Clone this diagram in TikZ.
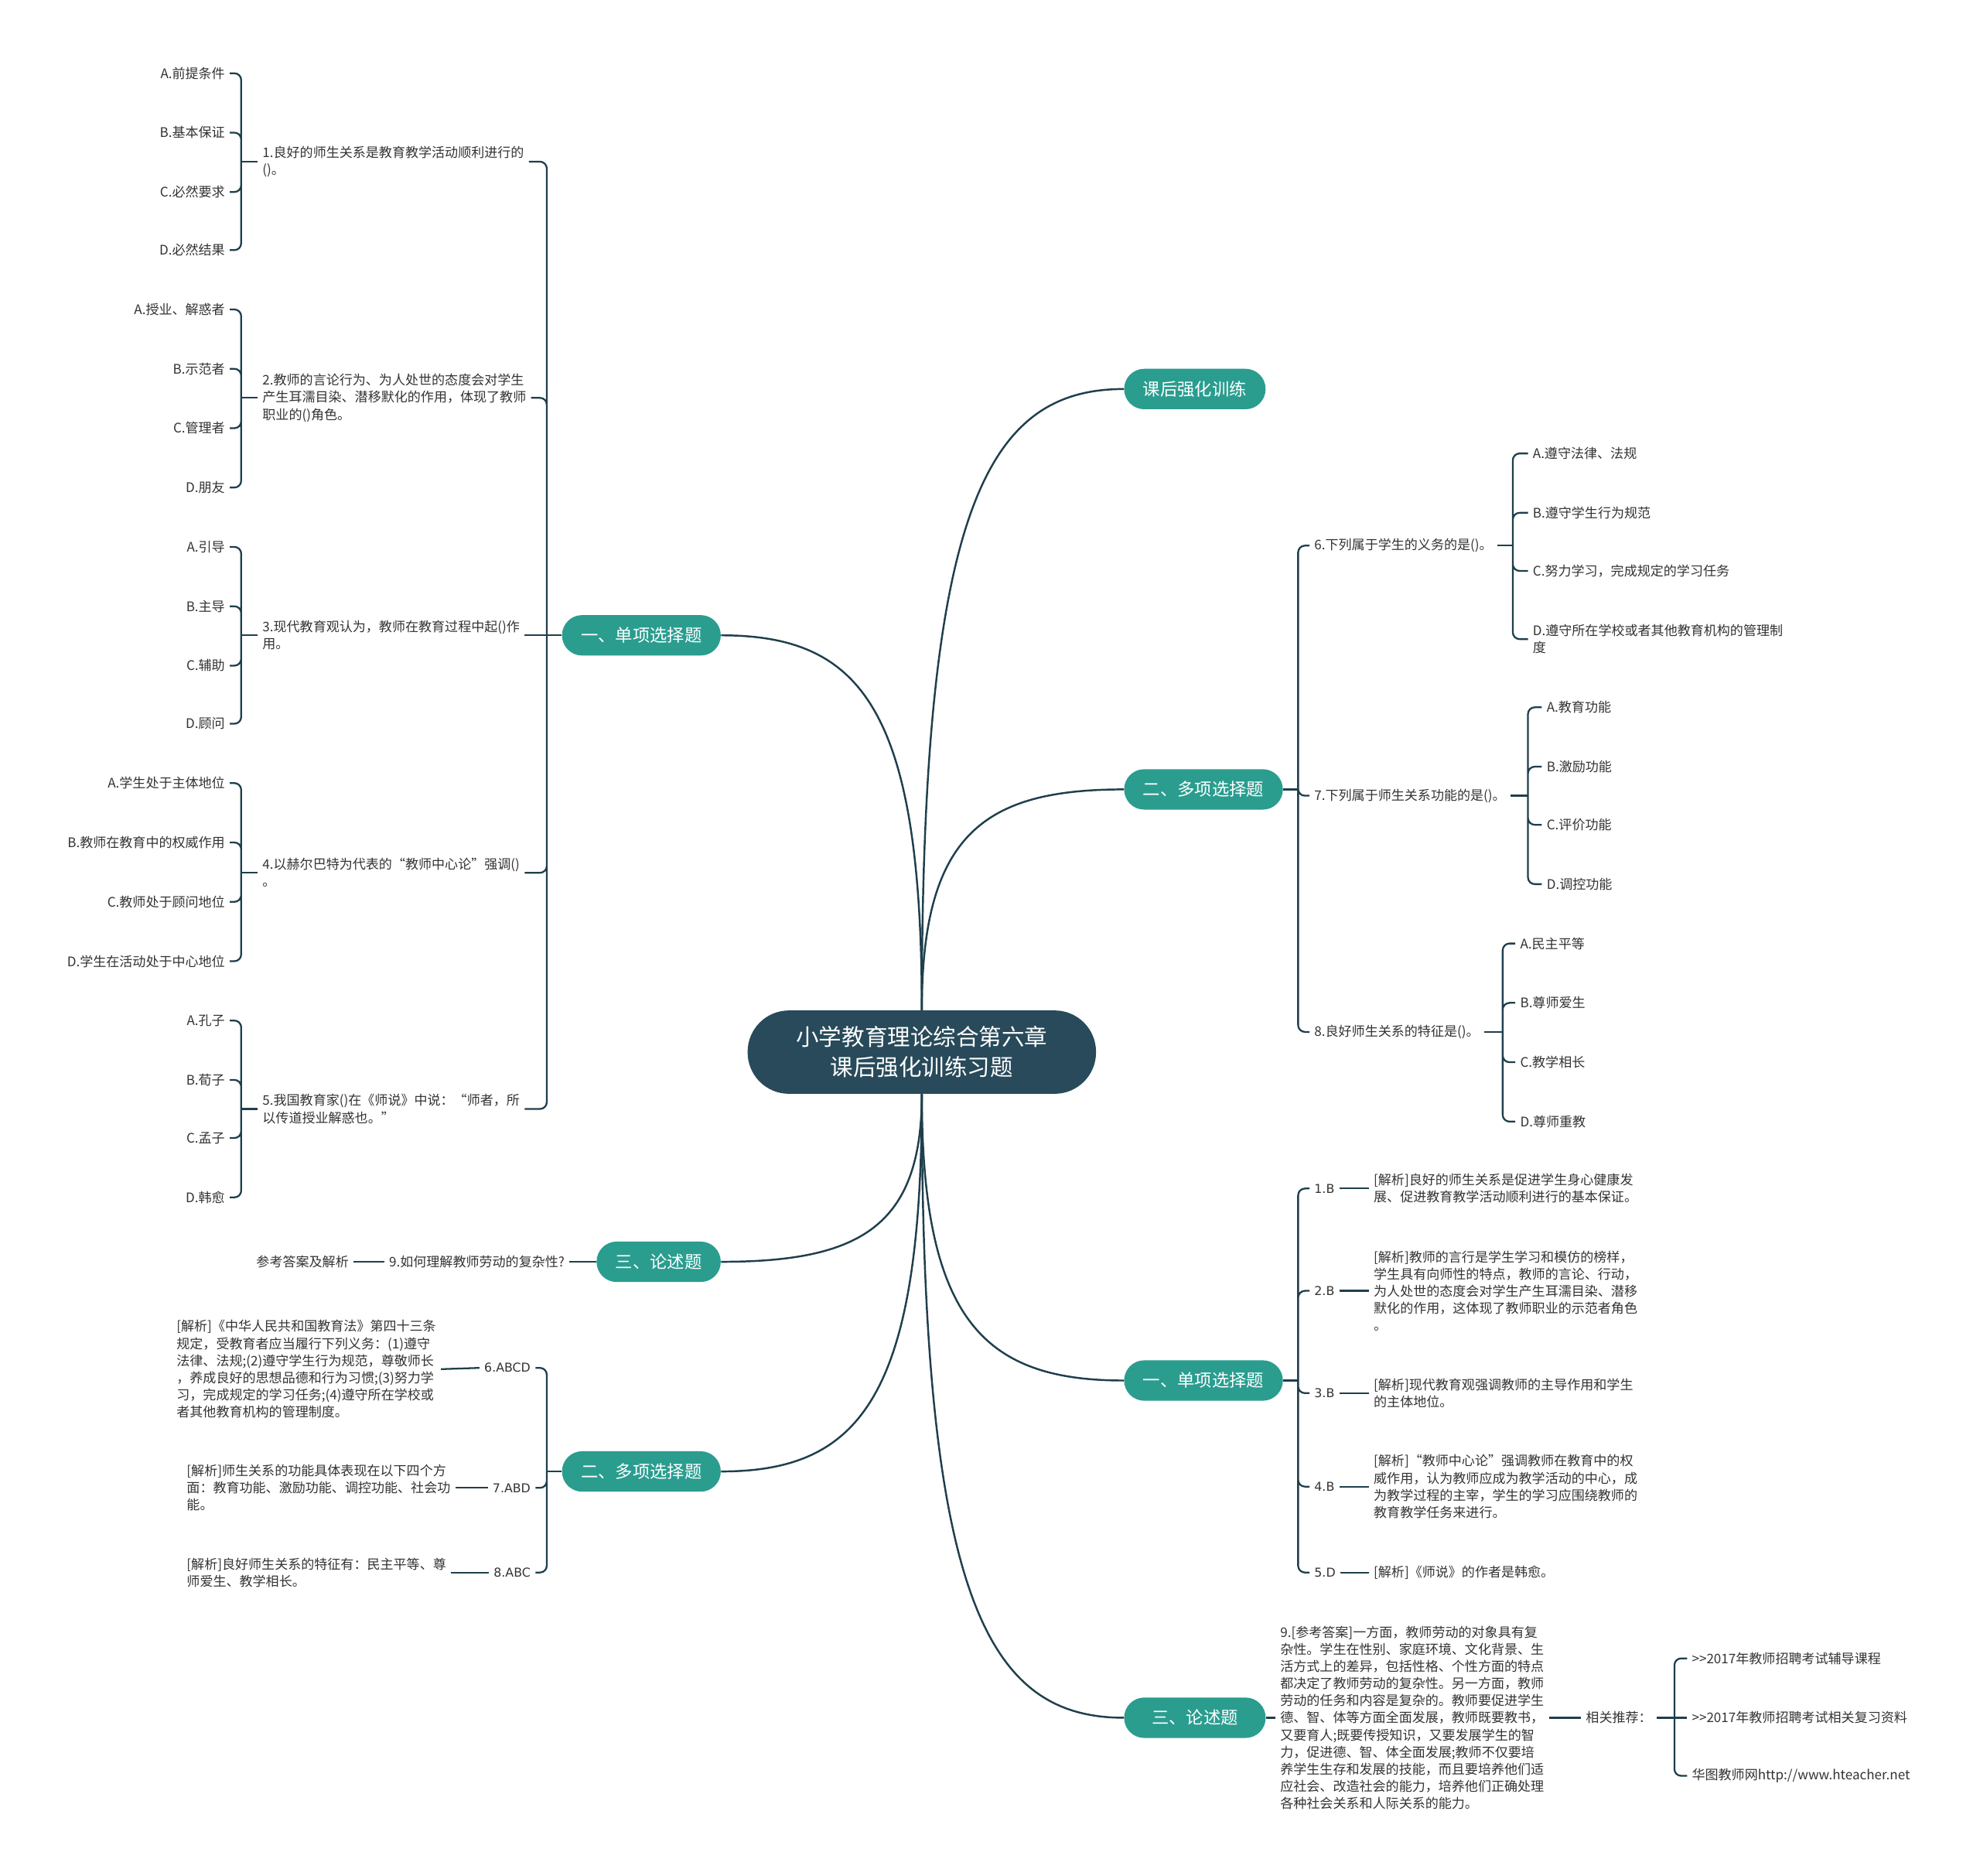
\documentclass[tikz,border=0pt]{standalone}
\usepackage{fontspec}
\setmainfont{Noto Sans CJK SC}
\newfontfamily\ansfont{DejaVu Sans}
\usepackage{tikz}

\definecolor{rootc}{HTML}{284A5A}
\definecolor{branchc}{HTML}{2A9D8F}
\definecolor{linec}{HTML}{1F3F4C}
\definecolor{textc}{HTML}{333333}

\begin{document}
\begin{tikzpicture}[x=0.032653cm, y=-0.032653cm,
    rootnode/.style={fill=rootc, text=white, rounded corners=1.07cm, minimum width=9.01cm, minimum height=2.155cm, align=center, font=\fontsize{16.8}{22.3}\selectfont},
    branch/.style={fill=branchc, text=white, rounded corners=0.52cm, minimum height=1.045cm, inner xsep=0.49cm, font=\fontsize{12.7}{15}\selectfont},
    txt/.style={text=textc, align=left, inner sep=0.12cm, font=\fontsize{9.7}{12.6}\selectfont},
    ans/.style={txt, font=\ansfont\fontsize{9}{12.6}\selectfont},
    trunk/.style={draw=linec, line width=1.4pt},
    link/.style={draw=linec, line width=1.3pt},
    brace/.style={link, rounded corners=5pt}]
    \fill[white] (0,0) rectangle (1568,1485);
    \useasboundingbox (0,0) rectangle (1568,1485);

    % centre and main branches
    \node[rootnode] (root) at (730,833) {小学教育理论综合第六章\\课后强化训练习题};
    \node[branch, anchor=west] (drill) at (890,308) {课后强化训练};
    \node[branch, anchor=west] (multiR) at (890,625) {二、多项选择题};
    \node[branch, anchor=west] (singleR) at (890,1093) {一、单项选择题};
    \node[branch, anchor=west, minimum width=3.66cm] (essayR) at (890,1360) {三、论述题};
    \node[branch, anchor=east] (singleL) at (571,503) {一、单项选择题};
    \node[branch, anchor=east] (essayL) at (571,999) {三、论述题};
    \node[branch, anchor=east] (multiL) at (571,1165) {二、多项选择题};

    \draw[trunk] (root.north) .. controls +(0,-394) and +(-110,0) .. (drill.west);
    \draw[trunk] (root.north) .. controls +(0,-140) and +(-110,0) .. (multiR.west);
    \draw[trunk] (root.south) .. controls +(0,180) and +(-110,0) .. (singleR.west);
    \draw[trunk] (root.south) .. controls +(0,395) and +(-110,0) .. (essayR.west);
    \draw[trunk] (root.north) .. controls +(0,-240) and +(110,0) .. (singleL.east);
    \draw[trunk] (root.south) .. controls +(0,105) and +(110,0) .. (essayL.east);
    \draw[trunk] (root.south) .. controls +(0,240) and +(110,0) .. (multiL.east);

    % left: single choice questions
    \node[txt, anchor=west] (q1) at (204,128) {1.良好的师生关系是教育教学活动顺利进行的\\()。};
    \node[txt, anchor=west] (q2) at (204,315) {2.教师的言论行为、为人处世的态度会对学生\\产生耳濡目染、潜移默化的作用，体现了教师\\职业的()角色。};
    \node[txt, anchor=west] (q3) at (204,503) {3.现代教育观认为，教师在教育过程中起()作\\用。};
    \node[txt, anchor=west] (q4) at (204,691) {4.以赫尔巴特为代表的“教师中心论”强调()\\。};
    \node[txt, anchor=west] (q5) at (204,878) {5.我国教育家()在《师说》中说：“师者，所\\以传道授业解惑也。”};

    \coordinate (fSL) at (433,503);
    \draw[link] (singleL.west) -- (fSL);
    \draw[brace] (fSL) |- (q1.east) (fSL) |- (q2.east) (fSL) |- (q4.east) (fSL) |- (q5.east);
    \draw[link] (fSL) -- (q3.east);

    \node[txt, anchor=east] (q1a) at (182,58) {A.前提条件};
    \node[txt, anchor=east] (q1b) at (182,105) {B.基本保证};
    \node[txt, anchor=east] (q1c) at (182,152) {C.必然要求};
    \node[txt, anchor=east] (q1d) at (182,198) {D.必然结果};
    \node[txt, anchor=east] (q2a) at (182,245) {A.授业、解惑者};
    \node[txt, anchor=east] (q2b) at (182,292) {B.示范者};
    \node[txt, anchor=east] (q2c) at (182,339) {C.管理者};
    \node[txt, anchor=east] (q2d) at (182,386) {D.朋友};
    \node[txt, anchor=east] (q3a) at (182,433) {A.引导};
    \node[txt, anchor=east] (q3b) at (182,480) {B.主导};
    \node[txt, anchor=east] (q3c) at (182,527) {C.辅助};
    \node[txt, anchor=east] (q3d) at (182,573) {D.顾问};
    \node[txt, anchor=east] (q4a) at (182,620) {A.学生处于主体地位};
    \node[txt, anchor=east] (q4b) at (182,667) {B.教师在教育中的权威作用};
    \node[txt, anchor=east] (q4c) at (182,714) {C.教师处于顾问地位};
    \node[txt, anchor=east] (q4d) at (182,761) {D.学生在活动处于中心地位};
    \node[txt, anchor=east] (q5a) at (182,808) {A.孔子};
    \node[txt, anchor=east] (q5b) at (182,855) {B.荀子};
    \node[txt, anchor=east] (q5c) at (182,901) {C.孟子};
    \node[txt, anchor=east] (q5d) at (182,948) {D.韩愈};

    \coordinate (fq1) at (191,128);
    \coordinate (fq2) at (191,315);
    \coordinate (fq3) at (191,503);
    \coordinate (fq4) at (191,691);
    \coordinate (fq5) at (191,878);
    \draw[link] (q1.west) -- (fq1);
    \draw[link] (q2.west) -- (fq2);
    \draw[link] (q3.west) -- (fq3);
    \draw[link] (q4.west) -- (fq4);
    \draw[link] (q5.west) -- (fq5);
    \draw[brace] (fq1) |- (q1a.east) (fq1) |- (q1b.east) (fq1) |- (q1c.east) (fq1) |- (q1d.east);
    \draw[brace] (fq2) |- (q2a.east) (fq2) |- (q2b.east) (fq2) |- (q2c.east) (fq2) |- (q2d.east);
    \draw[brace] (fq3) |- (q3a.east) (fq3) |- (q3b.east) (fq3) |- (q3c.east) (fq3) |- (q3d.east);
    \draw[brace] (fq4) |- (q4a.east) (fq4) |- (q4b.east) (fq4) |- (q4c.east) (fq4) |- (q4d.east);
    \draw[brace] (fq5) |- (q5a.east) (fq5) |- (q5b.east) (fq5) |- (q5c.east) (fq5) |- (q5d.east);

    % left: essay question
    \node[txt, anchor=east] (q9) at (451,999) {9.如何理解教师劳动的复杂性?};
    \node[txt, anchor=east] (q9ref) at (280,999) {参考答案及解析};
    \draw[link] (essayL.west) -- (q9.east);
    \draw[link] (q9.west) -- (q9ref.east);

    % left: multiple choice answers
    \node[ans, anchor=east] (a6) at (424,1083) {6.ABCD};
    \node[ans, anchor=east] (a7) at (424,1178) {7.ABD};
    \node[ans, anchor=east] (a8) at (424,1245) {8.ABC};
    \node[txt, anchor=west] (e6) at (136,1084) {[解析]《中华人民共和国教育法》第四十三条\\规定，受教育者应当履行下列义务：(1)遵守\\法律、法规;(2)遵守学生行为规范，尊敬师长\\，养成良好的思想品德和行为习惯;(3)努力学\\习，完成规定的学习任务;(4)遵守所在学校或\\者其他教育机构的管理制度。};
    \node[txt, anchor=west] (e7) at (144,1178) {[解析]师生关系的功能具体表现在以下四个方\\面：教育功能、激励功能、调控功能、社会功\\能。};
    \node[txt, anchor=west] (e8) at (144,1245) {[解析]良好师生关系的特征有：民主平等、尊\\师爱生、教学相长。};

    \coordinate (fML) at (433,1165);
    \draw[link] (multiL.west) -- (fML);
    \draw[brace] (fML) |- (a6.east) (fML) |- (a7.east) (fML) |- (a8.east);
    \draw[link] (a6.west) -- (e6.east);
    \draw[link] (a7.west) -- (e7.east);
    \draw[link] (a8.west) -- (e8.east);

    % right: multiple choice questions
    \node[txt, anchor=west] (q6) at (1037,432) {6.下列属于学生的义务的是()。};
    \node[txt, anchor=west] (q7) at (1037,630) {7.下列属于师生关系功能的是()。};
    \node[txt, anchor=west] (q8) at (1037,817) {8.良好师生关系的特征是()。};

    \coordinate (fMR) at (1028,625);
    \draw[link] (multiR.east) -- (fMR);
    \draw[brace] (fMR) |- (q6.west) (fMR) |- (q7.west) (fMR) |- (q8.west);

    \node[txt, anchor=west] (q6a) at (1210,359) {A.遵守法律、法规};
    \node[txt, anchor=west] (q6b) at (1210,406) {B.遵守学生行为规范};
    \node[txt, anchor=west] (q6c) at (1210,452) {C.努力学习，完成规定的学习任务};
    \node[txt, anchor=west] (q6d) at (1210,506) {D.遵守所在学校或者其他教育机构的管理制\\度};
    \node[txt, anchor=west] (q7a) at (1221,560) {A.教育功能};
    \node[txt, anchor=west] (q7b) at (1221,607) {B.激励功能};
    \node[txt, anchor=west] (q7c) at (1221,653) {C.评价功能};
    \node[txt, anchor=west] (q7d) at (1221,700) {D.调控功能};
    \node[txt, anchor=west] (q8a) at (1200,747) {A.民主平等};
    \node[txt, anchor=west] (q8b) at (1200,794) {B.尊师爱生};
    \node[txt, anchor=west] (q8c) at (1200,841) {C.教学相长};
    \node[txt, anchor=west] (q8d) at (1200,888) {D.尊师重教};

    \coordinate (fq6) at (1198,432);
    \coordinate (fq7) at (1210,630);
    \coordinate (fq8) at (1190,817);
    \draw[link] (q6.east) -- (fq6);
    \draw[link] (q7.east) -- (fq7);
    \draw[link] (q8.east) -- (fq8);
    \draw[brace] (fq6) |- (q6a.west) (fq6) |- (q6b.west) (fq6) |- (q6c.west) (fq6) |- (q6d.west);
    \draw[brace] (fq7) |- (q7a.west) (fq7) |- (q7b.west) (fq7) |- (q7c.west) (fq7) |- (q7d.west);
    \draw[brace] (fq8) |- (q8a.west) (fq8) |- (q8b.west) (fq8) |- (q8c.west) (fq8) |- (q8d.west);

    % right: single choice answers
    \node[ans, anchor=west] (a1) at (1037,941) {1.B};
    \node[ans, anchor=west] (a2) at (1037,1022) {2.B};
    \node[ans, anchor=west] (a3) at (1037,1103) {3.B};
    \node[ans, anchor=west] (a4) at (1037,1177) {4.B};
    \node[ans, anchor=west] (a5) at (1037,1245) {5.D};
    \node[txt, anchor=west] (e1) at (1084,941) {[解析]良好的师生关系是促进学生身心健康发\\展、促进教育教学活动顺利进行的基本保证。};
    \node[txt, anchor=west] (e2) at (1084,1022) {[解析]教师的言行是学生学习和模仿的榜样，\\学生具有向师性的特点，教师的言论、行动，\\为人处世的态度会对学生产生耳濡目染、潜移\\默化的作用，这体现了教师职业的示范者角色\\。};
    \node[txt, anchor=west] (e3) at (1084,1103) {[解析]现代教育观强调教师的主导作用和学生\\的主体地位。};
    \node[txt, anchor=west] (e4) at (1084,1177) {[解析]“教师中心论”强调教师在教育中的权\\威作用，认为教师应成为教学活动的中心，成\\为教学过程的主宰，学生的学习应围绕教师的\\教育教学任务来进行。};
    \node[txt, anchor=west] (e5) at (1084,1245) {[解析]《师说》的作者是韩愈。};

    \coordinate (fSR) at (1028,1093);
    \draw[link] (singleR.east) -- (fSR);
    \draw[brace] (fSR) |- (a1.west) (fSR) |- (a2.west) (fSR) |- (a3.west) (fSR) |- (a4.west) (fSR) |- (a5.west);
    \draw[link] (a1.east) -- (e1.west);
    \draw[link] (a2.east) -- (e2.west);
    \draw[link] (a3.east) -- (e3.west);
    \draw[link] (a4.east) -- (e4.west);
    \draw[link] (a5.east) -- (e5.west);

    % right: essay answer
    \node[txt, anchor=west] (e9) at (1010,1360) {9.[参考答案]一方面，教师劳动的对象具有复\\杂性。学生在性别、家庭环境、文化背景、生\\活方式上的差异，包括性格、个性方面的特点\\都决定了教师劳动的复杂性。另一方面，教师\\劳动的任务和内容是复杂的。教师要促进学生\\德、智、体等方面全面发展，教师既要教书，\\又要育人;既要传授知识，又要发展学生的智\\力，促进德、智、体全面发展;教师不仅要培\\养学生生存和发展的技能，而且要培养他们适\\应社会、改造社会的能力，培养他们正确处理\\各种社会关系和人际关系的能力。};
    \node[txt, anchor=west] (rel) at (1252,1360) {相关推荐：};
    \node[txt, anchor=west] (rel1) at (1336,1313) {>{}>2017年教师招聘考试辅导课程};
    \node[txt, anchor=west] (rel2) at (1336,1360) {>{}>2017年教师招聘考试相关复习资料};
    \node[txt, anchor=west] (rel3) at (1336,1406) {华图教师网http://www.hteacher.net};

    \coordinate (fr9) at (1326,1360);
    \draw[link] (essayR.east) -- (e9.west);
    \draw[link] (e9.east) -- (rel.west);
    \draw[link] (rel.east) -- (fr9);
    \draw[brace] (fr9) |- (rel1.west) (fr9) |- (rel3.west);
    \draw[link] (fr9) -- (rel2.west);
\end{tikzpicture}
\end{document}
